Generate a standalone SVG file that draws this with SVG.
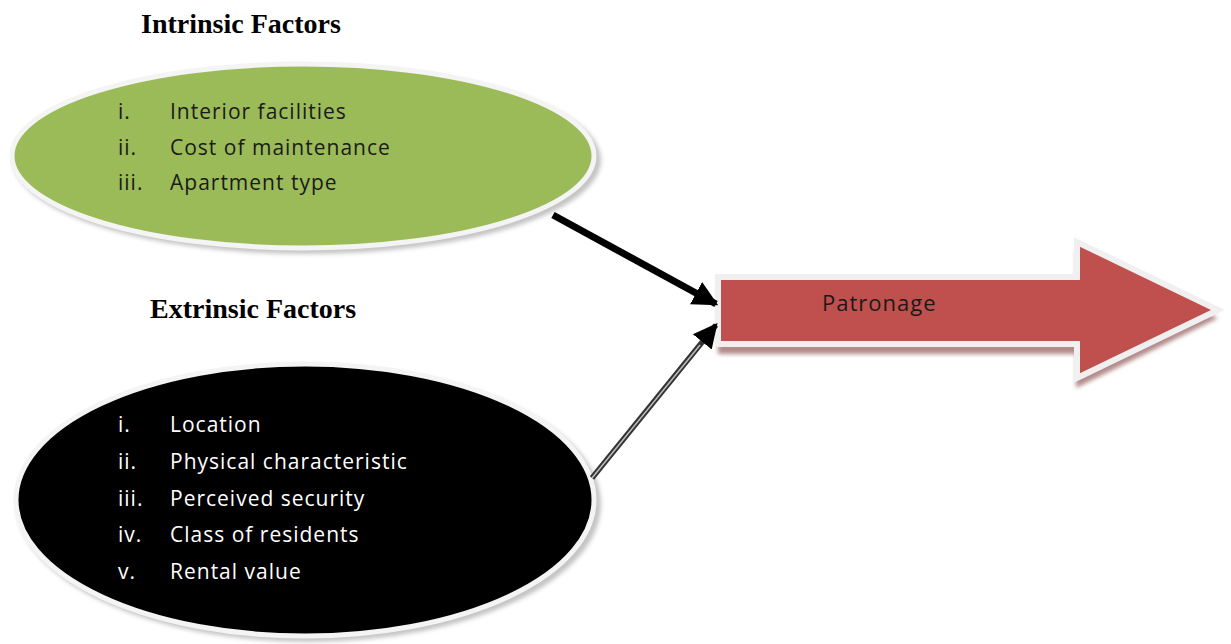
<svg xmlns="http://www.w3.org/2000/svg" width="1231" height="644" viewBox="0 0 1231 644">
  <defs>
    <style>
      .title { font-family: "Liberation Serif", "Times New Roman", serif; font-weight: bold; font-size: 28px; fill: #000; }
      .item { font-family: "Open Sans", "Liberation Sans", sans-serif; font-size: 21px; letter-spacing: 1px; }
      .dark { fill: #1a1a1a; }
      .light { fill: #ffffff; }
      .shade { fill: #c4c4c4; filter: url(#soft); }
      .rim { stroke: #f4f4f4; stroke-width: 5; }
    </style>
    <filter id="soft" x="-10%" y="-10%" width="120%" height="120%">
      <feGaussianBlur stdDeviation="2"/>
    </filter>
    <marker id="headSolid" viewBox="0 0 10 10" refX="9" refY="5" markerWidth="3.6" markerHeight="4" orient="auto" markerUnits="strokeWidth">
      <path d="M0,0 L10,5 L0,10 z" fill="#000"/>
    </marker>
    <marker id="headHatch" viewBox="0 0 10 10" refX="9" refY="5" markerWidth="4.4" markerHeight="5" orient="auto" markerUnits="strokeWidth">
      <path d="M0,0 L10,5 L0,10 z" fill="#000"/>
    </marker>
  </defs>

  <rect width="1231" height="644" fill="#ffffff"/>

  <!-- section headings -->
  <text class="title" x="141" y="33">Intrinsic Factors</text>
  <text class="title" x="150" y="318">Extrinsic Factors</text>

  <!-- intrinsic factors -->
  <g id="intrinsic">
    <ellipse class="shade" cx="307" cy="160" rx="294" ry="94"/>
    <ellipse class="rim" cx="303" cy="156" rx="291" ry="92" fill="#9bbb59"/>
    <text class="item dark" x="118" y="119">i.</text>
    <text class="item dark" x="170" y="119">Interior facilities</text>
    <text class="item dark" x="118" y="155">ii.</text>
    <text class="item dark" x="170" y="155">Cost of maintenance</text>
    <text class="item dark" x="118" y="190">iii.</text>
    <text class="item dark" x="170" y="190">Apartment type</text>
  </g>

  <!-- extrinsic factors -->
  <g id="extrinsic">
    <ellipse class="shade" cx="309" cy="504" rx="292" ry="138"/>
    <ellipse class="rim" cx="305" cy="500" rx="289" ry="136" fill="#000000"/>
    <text class="item light" x="118" y="432">i.</text>
    <text class="item light" x="170" y="432">Location</text>
    <text class="item light" x="118" y="469">ii.</text>
    <text class="item light" x="170" y="469">Physical characteristic</text>
    <text class="item light" x="118" y="506">iii.</text>
    <text class="item light" x="170" y="506">Perceived security</text>
    <text class="item light" x="118" y="542">iv.</text>
    <text class="item light" x="170" y="542">Class of residents</text>
    <text class="item light" x="118" y="579">v.</text>
    <text class="item light" x="170" y="579">Rental value</text>
  </g>

  <!-- outcome block arrow -->
  <g id="patronage">
    <path d="M718,288 L1076,288 L1076,252 L1218,318 L1076,388 L1076,354 L718,354 z" fill="#b38a8a" filter="url(#soft)"/>
    <path d="M718,277 L1077,277 L1077,242 L1218,310 L1077,378 L1077,344 L718,344 z" fill="#c0504d" stroke="#f0f0f0" stroke-width="6" stroke-linejoin="miter"/>
    <text class="item dark" x="822" y="311" style="font-size:22px">Patronage</text>
  </g>

  <!-- connectors -->
  <g id="connectors">
    <line x1="553" y1="215" x2="716" y2="304" stroke="#000" stroke-width="7" marker-end="url(#headSolid)"/>
    <line x1="592" y1="478" x2="716" y2="325" stroke="#333" stroke-width="5.5" marker-end="url(#headHatch)"/>
    <line x1="592" y1="478" x2="700" y2="345" stroke="#bdbdbd" stroke-width="1.5"/>
  </g>
</svg>
